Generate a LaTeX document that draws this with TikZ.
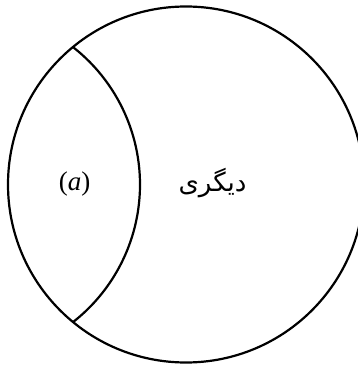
\documentclass[tikz,border=0pt]{standalone}
\usepackage{fontspec}
\setmainfont{Liberation Serif}
\newfontfamily\arabicfont[Script=Arabic]{DejaVu Sans}
\TeXXeTstate=1
\begin{document}
\begin{tikzpicture}[x=1pt, y=-1pt]
    % Riquadro come nell'immagine
    \useasboundingbox (0,0) rectangle (357,366);
    % Cerchio esterno
    \coordinate (cBig) at (186,184.5);
    \draw[line width=2.2pt] (cBig) circle (178);
    % Arco interno (cerchio di sinistra)
    \coordinate (cSmall) at (-34.6,184.6);
    \draw[line width=2.2pt] (cSmall) ++(-52:174.6) arc (-52:52:174.6);
    % Etichette
    \node[font=\fontsize{27}{31}\selectfont] (lblA) at (74.5,184) {(\textit{a})};
    \node[font=\fontsize{26}{30}\selectfont] (lblB) at (212.5,183) {\arabicfont\beginR دیگری\endR};
\end{tikzpicture}
\end{document}
